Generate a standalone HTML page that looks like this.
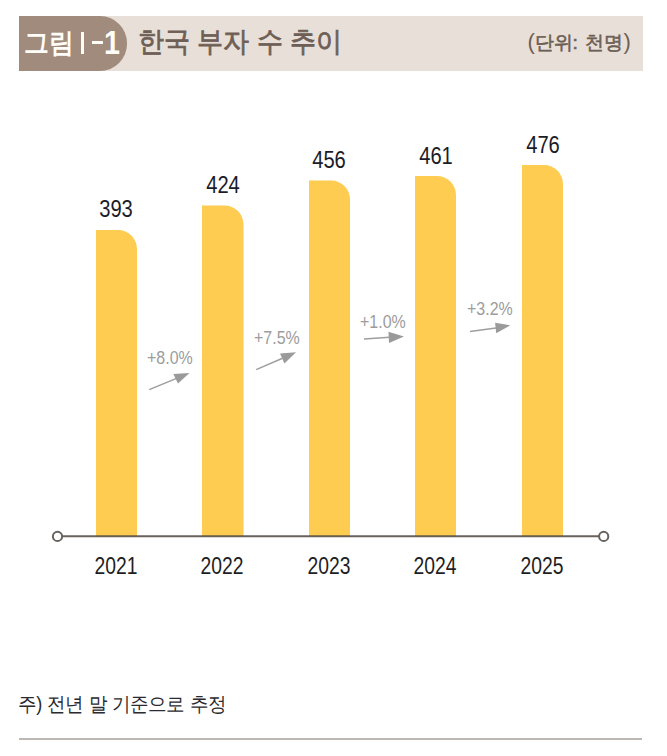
<!DOCTYPE html>
<html lang="ko">
<head>
<meta charset="utf-8">
<style>
html,body{margin:0;padding:0;background:#fff;}
body{width:667px;height:756px;position:relative;overflow:hidden;font-family:"Liberation Sans",sans-serif;}
.abs{position:absolute;white-space:nowrap;line-height:1;}
#bar{left:19px;top:16px;width:624px;height:54.5px;background:#e8e0d8;}
#lab{left:19px;top:16px;width:108px;height:54.5px;background:#a08b7c;border-radius:0 27px 27px 0;}
#labt{left:24px;top:30px;font-size:27px;font-weight:bold;color:#fffdf8;transform-origin:left top;transform:scaleX(0.92);}
#labI{left:80.5px;top:32.2px;width:3.5px;height:21.6px;background:#fffdf8;}
#labD{left:91.6px;top:41.2px;width:11.7px;height:3px;background:#fffdf8;}
#lab1{left:104px;top:26px;font-size:33px;color:#fffdf8;font-weight:bold;transform-origin:left top;transform:scaleX(0.87);}
#title{left:138px;top:28px;font-size:28px;font-weight:normal;-webkit-text-stroke:0.8px #6e5f56;color:#6e5f56;transform-origin:left top;transform:scaleX(0.93);}
.par{top:31px;font-size:22px;color:#6e5f56;}
#unit{word-spacing:2px;left:534.5px;top:32.5px;font-size:19.2px;font-weight:normal;-webkit-text-stroke:0.6px #6e5f56;color:#6e5f56;}
.val{font-size:24px;color:#1c1c28;transform-origin:center top;transform:scaleX(0.84);width:60px;text-align:center;}
.yr{font-size:23px;color:#1e1e24;transform-origin:center top;transform:scaleX(0.84);width:60px;text-align:center;}
.pct{font-size:19px;color:#9c9c9c;transform-origin:left top;transform:scaleX(0.84);}
#note{left:18px;top:694.7px;font-size:18px;transform-origin:left top;transform:scale(1.01,1.09);color:#2a2a30;}
</style>
</head>
<body>
<div class="abs" id="bar"></div>
<div class="abs" id="lab"></div>
<div class="abs" id="labt">그림</div>
<div class="abs" id="labI"></div>
<div class="abs" id="labD"></div>
<div class="abs" id="lab1">1</div>
<div class="abs" id="title">한국 부자 수 추이</div>
<div class="abs" id="unit">단위: 천명</div>
<div class="abs par" style="left:527.5px">(</div>
<div class="abs par" style="left:623.5px">)</div>

<svg class="abs" style="left:0;top:0" width="667" height="756" viewBox="0 0 667 756">
  <g fill="#fecc50">
    <path d="M96 536.4 V230 H118 A19 19 0 0 1 137 249 V536.4 Z"/>
    <path d="M202 536.4 V205.5 H224.5 A19 19 0 0 1 243.5 224.5 V536.4 Z"/>
    <path d="M309 536.4 V180.5 H331 A19 19 0 0 1 350 199.5 V536.4 Z"/>
    <path d="M415 536.4 V176 H437 A19 19 0 0 1 456 195 V536.4 Z"/>
    <path d="M522 536.4 V165 H544 A19 19 0 0 1 563 184 V536.4 Z"/>
  </g>
  <line x1="62" y1="536.2" x2="599" y2="536.2" stroke="rgb(78,72,68)" stroke-opacity="0.86" stroke-width="2"/>
  <circle cx="57.5" cy="536.4" r="4.6" fill="#fff" stroke="#67625e" stroke-width="2"/>
  <circle cx="603.7" cy="536.4" r="4.6" fill="#fff" stroke="#67625e" stroke-width="2"/>
  <g stroke="#9e9e9e" stroke-width="1.5" fill="none">
    <line x1="149.2" y1="389.6" x2="176" y2="378.6"/>
    <line x1="256.2" y1="369.6" x2="282.5" y2="358.2"/>
    <line x1="364" y1="338.9" x2="389.5" y2="337.3"/>
    <line x1="470" y1="331.5" x2="496" y2="328"/>
  </g>
  <g fill="#9a9a9a">
    <polygon points="189.5,373 173.3,374.1 178,383.5"/>
    <polygon points="296,352.3 280,353.4 284.4,363.5"/>
    <polygon points="403.9,336.6 388.4,331.8 389.1,342.9"/>
    <polygon points="510.2,325.4 495.1,322.8 496.2,333.3"/>
  </g>
</svg>

<div class="abs val" style="left:86px;top:197px">393</div>
<div class="abs val" style="left:192.75px;top:173px">424</div>
<div class="abs val" style="left:299px;top:148px">456</div>
<div class="abs val" style="left:405.5px;top:144px">461</div>
<div class="abs val" style="left:512.5px;top:133px">476</div>

<div class="abs yr" style="left:86px;top:555px">2021</div>
<div class="abs yr" style="left:192.25px;top:555px">2022</div>
<div class="abs yr" style="left:299px;top:555px">2023</div>
<div class="abs yr" style="left:405px;top:555px">2024</div>
<div class="abs yr" style="left:512px;top:555px">2025</div>

<div class="abs pct" style="left:147px;top:348px">+8.0%</div>
<div class="abs pct" style="left:254px;top:328px">+7.5%</div>
<div class="abs pct" style="left:360px;top:312px">+1.0%</div>
<div class="abs pct" style="left:467px;top:299px">+3.2%</div>

<div class="abs" id="note">주) 전년 말 기준으로 추정</div>
<div class="abs" style="left:19px;top:738.4px;width:622.5px;height:2px;background:#bdb8b4"></div>
</body>
</html>
